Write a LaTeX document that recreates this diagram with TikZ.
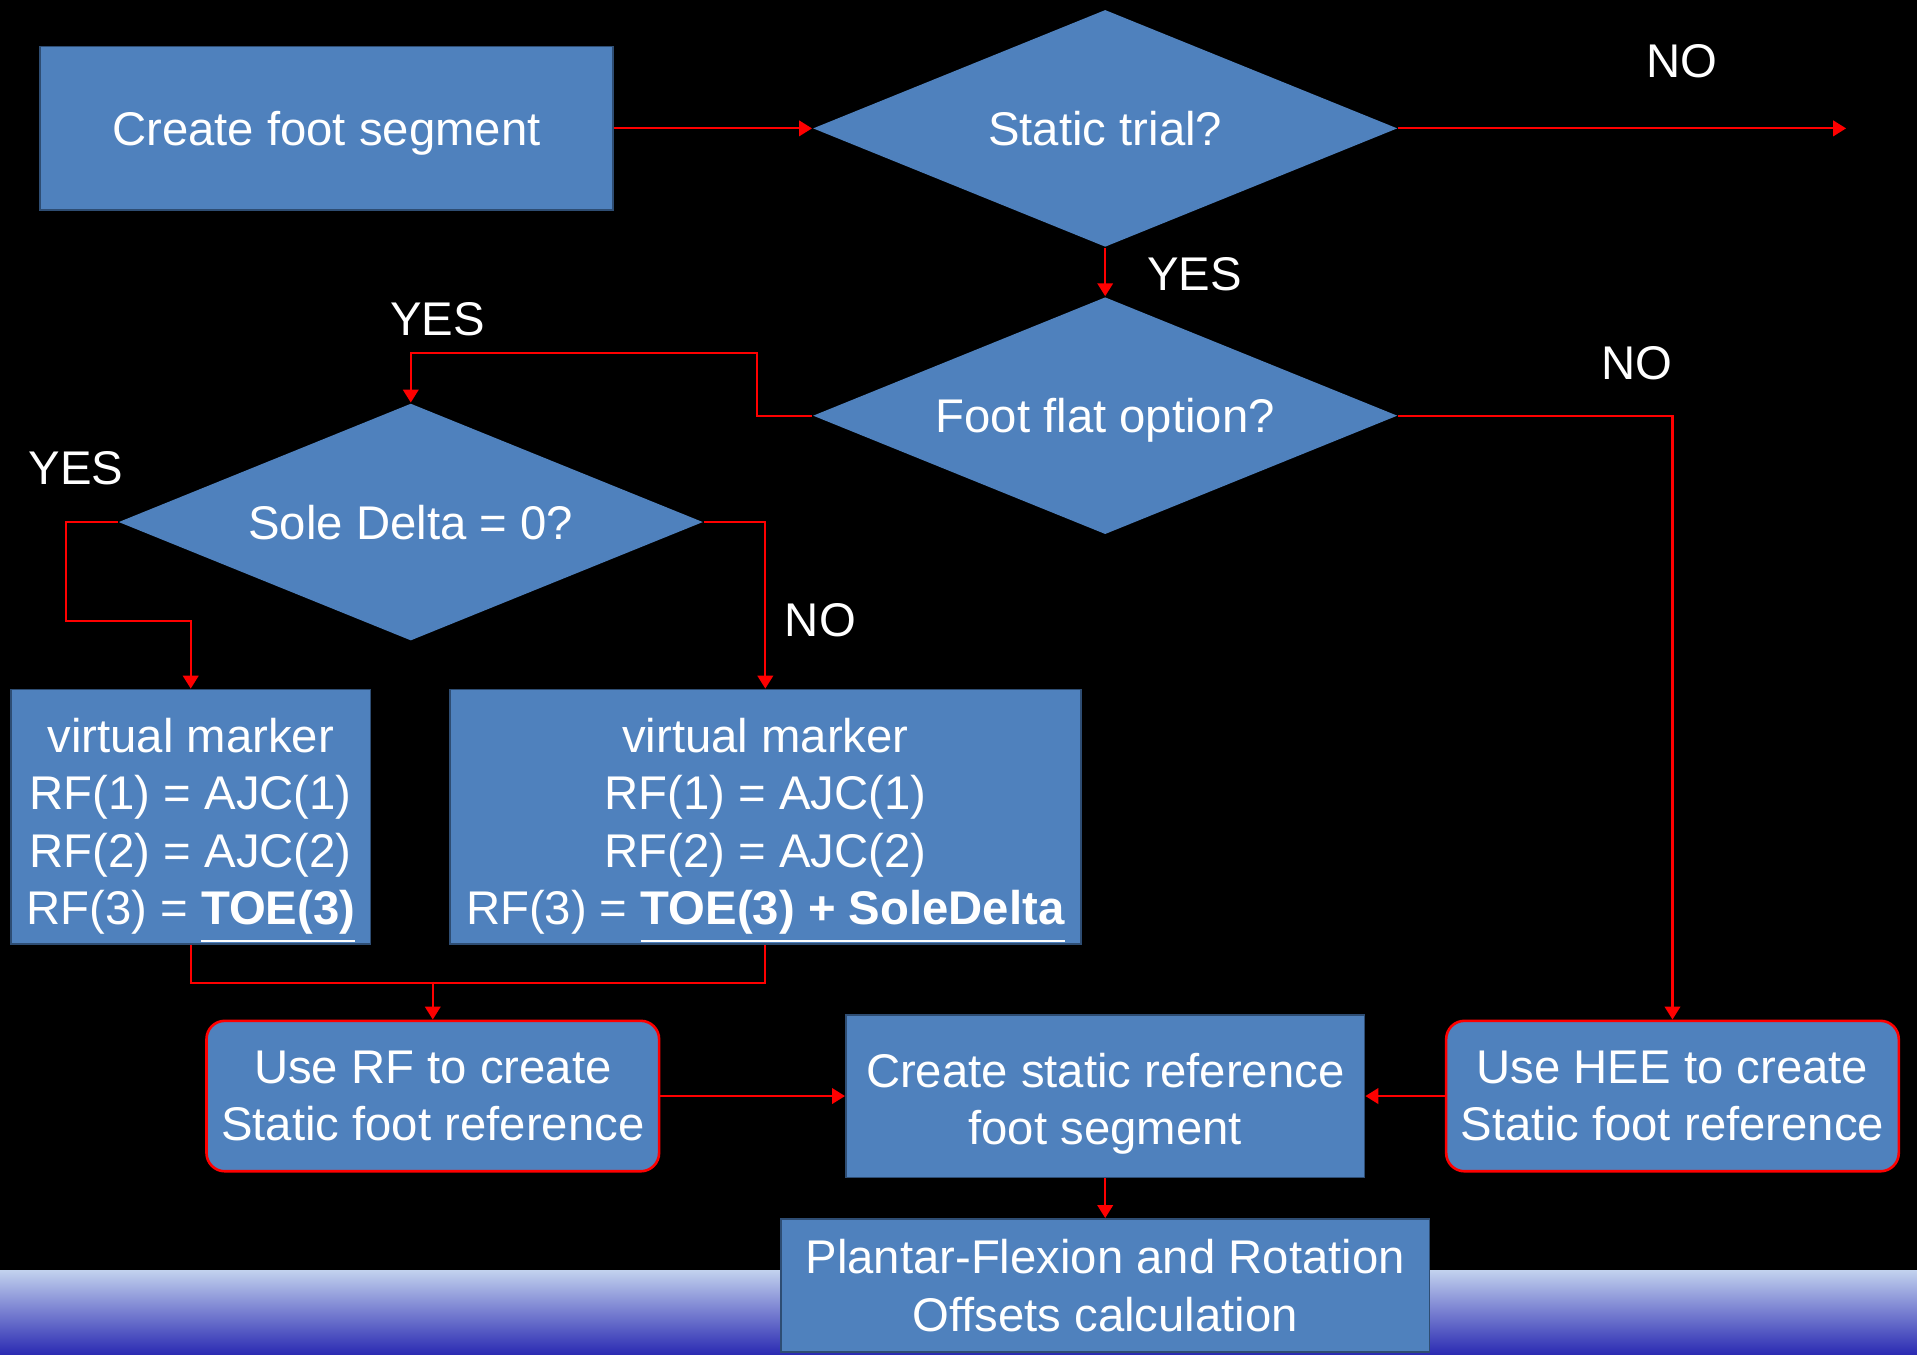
\documentclass[tikz,border=0pt]{standalone}
\usepackage{fontspec}
\setmainfont{Liberation Sans}
\usetikzlibrary{shapes.geometric, arrows.meta}

\begin{document}
\begin{tikzpicture}[x=0.01cm, y=-0.01cm,
	every node/.style={text=white, font=\fontsize{11}{13.4}\selectfont},
	box/.style={rectangle, fill=boxblue, draw=boxedge, line width=0.4pt, align=center, inner sep=0pt},
	rbox/.style={box, draw=linkred, line width=0.6pt, rounded corners=0.15cm},
	decision/.style={diamond, fill=boxblue, inner sep=0pt, text depth=0pt, aspect=2.46, minimum width=4.78cm, minimum height=1.94cm},
	link/.style={draw=linkred, line width=0.5pt},
	arr/.style={link, -{Triangle[width=3.6pt,length=3pt]}},
	]
	\definecolor{boxblue}{HTML}{4F81BD}
	\definecolor{boxedge}{HTML}{2E4D73}
	\definecolor{linkred}{HTML}{FF0000}
	\definecolor{bandtop}{HTML}{C2D1EE}
	\definecolor{bandmid}{HTML}{9CA8DD}
	\definecolor{bandbot}{HTML}{2A2AB2}
	% background and bottom band
	\useasboundingbox (0,0) rectangle (1568,1108);
	\fill[black] (0,0) rectangle (1568,1108);
	\shade[top color=bandtop, middle color=bandmid, bottom color=bandbot] (0,1039) rectangle (1568,1108);

	% boxes
	\node[box, text depth=0pt, minimum width=4.68cm, minimum height=1.34cm] (cfs) at (267,105) {Create foot segment};
	\node[decision] (static) at (904,105) {Static trial?};
	\node[decision] (flat) at (904,340) {Foot flat option?};
	\node[decision] (sole) at (336,427) {Sole Delta = 0?};
	\node[box, minimum width=2.94cm, minimum height=2.08cm] (vm1) at (156,668)
		{\rule{0pt}{14.4pt}virtual marker\\RF(1) = AJC(1)\\RF(2) = AJC(2)\\RF(3) = \underline{\textbf{TOE(3)}}};
	\node[box, minimum width=5.16cm, minimum height=2.08cm] (vm2) at (626,668)
		{\rule{0pt}{14.4pt}virtual marker\\RF(1) = AJC(1)\\RF(2) = AJC(2)\\RF(3) = \underline{\textbf{TOE(3) + SoleDelta}}};
	\node[rbox, minimum width=3.70cm, minimum height=1.23cm] (userf) at (354,896.5)
		{Use RF to create\\Static foot reference};
	\node[box, minimum width=4.24cm, minimum height=1.33cm] (srf) at (904,896.5)
		{\rule{0pt}{11.5pt}Create static reference\\foot segment};
	\node[rbox, minimum width=3.70cm, minimum height=1.23cm] (hee) at (1368,896.5)
		{Use HEE to create\\Static foot reference};
	\node[box, minimum width=5.30cm, minimum height=1.09cm] (plantar) at (904,1051.5)
		{Plantar-Flexion and Rotation\\Offsets calculation};

	% answers
	\node (no1) at (1376,50) {NO};
	\node (yes1) at (977,224) {YES};
	\node (yes2) at (358,261) {YES};
	\node (no2) at (1339,297) {NO};
	\node (yes3) at (62,383) {YES};
	\node (no3) at (671,507) {NO};

	% connectors
	\coordinate (out) at (1510,105);
	\coordinate (join) at (354,803);
	\draw[arr] (cfs) -- (static);
	\draw[arr] (static.east) -- (out);
	\draw[arr] (static.south) -- (flat.north);
	\draw[arr] (flat.west) -- ++(-45,0) -- ++(0,-51) -| (sole.north);
	\draw[arr] (flat.east) -| (hee.north);
	\draw[arr] (sole.west) -- ++(-42,0) -- ++(0,81) -| (vm1.north);
	\draw[arr] (sole.east) -| (vm2.north);
	\draw[link] (vm1.south) -- ++(0,31) -| (vm2.south);
	\draw[arr] (join) -- (userf.north);
	\draw[arr] (userf) -- (srf);
	\draw[arr] (hee) -- (srf);
	\draw[arr] (srf) -- (plantar);
\end{tikzpicture}
\end{document}
